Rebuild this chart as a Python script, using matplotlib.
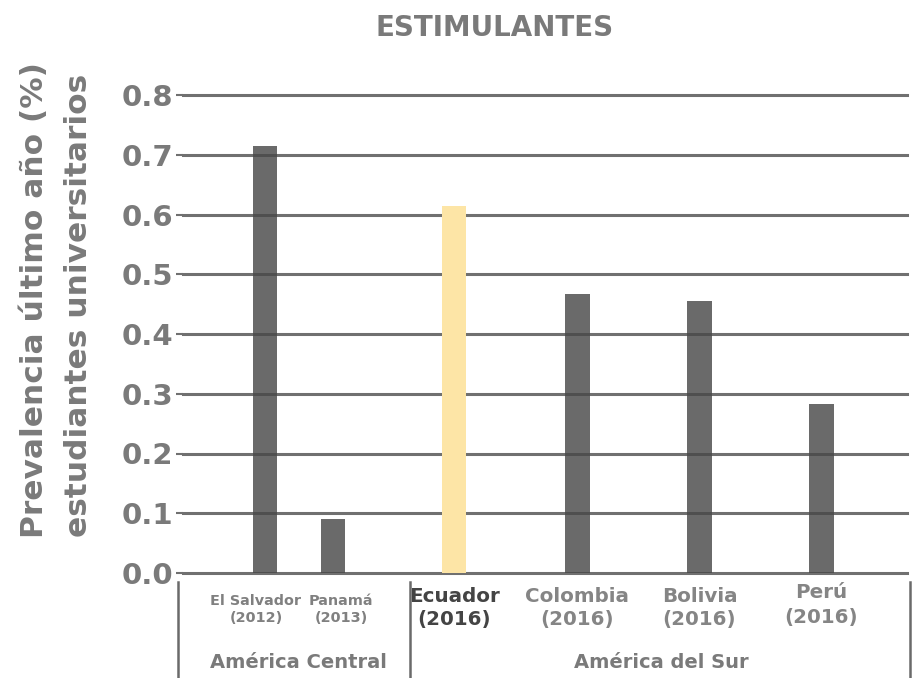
import matplotlib
matplotlib.use("Agg")
import matplotlib.pyplot as plt
from matplotlib.lines import Line2D
import numpy as np

# ---- data ----
countries = ["El Salvador", "Panamá", "Ecuador", "Colombia", "Bolivia", "Perú"]
years = ["(2012)", "(2013)", "(2016)", "(2016)", "(2016)", "(2016)"]
values = [0.715, 0.090, 0.614, 0.467, 0.455, 0.283]
groups = ["América Central", "América del Sur"]
yticks = [0.0, 0.1, 0.2, 0.3, 0.4, 0.5, 0.6, 0.7, 0.8]
title = "ESTIMULANTES"
ylabel_lines = ["Prevalencia último año (%)", "estudiantes universitarios"]
highlight = "Ecuador"

# ---- layout ----
xpos = [0.67, 1.23, 2.22, 3.23, 4.23, 5.23]
bar_w = 0.2
TXT = "#7a7a7a"

fig = plt.figure(figsize=(9.19, 6.78), dpi=100)
ax = fig.add_axes([183/919, 1-573/678, (907-183)/919, (573-95)/678])
ax.set_xlim(0, 5.93)
ax.set_ylim(0, 0.8)

for y in yticks:
    ax.axhline(y, color="#707070", lw=2.2, zorder=1, clip_on=False)

for x, v, c in zip(xpos, values, countries):
    if c == highlight:
        ax.bar(x, v, width=bar_w, color="#fde5a6", zorder=3)
    else:
        ax.bar(x, v, width=bar_w, color="#484848", alpha=0.81, zorder=2, linewidth=0)

for s in ax.spines.values():
    s.set_visible(False)
ax.set_xticks([])
ax.set_yticks(yticks)
ax.set_yticklabels([f"{t:.1f}" for t in yticks], fontsize=21, fontweight="bold",
                   color=TXT, family="DejaVu Sans")
ax.tick_params(axis="y", length=5, width=1.5, color="#707070", pad=2)

fig.text(495/919, 1-28/678, title, ha="center", va="center", fontsize=20,
         fontweight="bold", color=TXT)
fig.text(35/919, 1-300/678, ylabel_lines[0], rotation=90, ha="center", va="center",
         fontsize=22.5, fontweight="bold", color=TXT)
fig.text(79/919, 1-305/678, ylabel_lines[1], rotation=90, ha="center", va="center",
         fontsize=22.5, fontweight="bold", color=TXT)

# category labels
for i, (x, c, yr) in enumerate(zip(xpos, countries, years)):
    if i < 2:
        fs, col = 10.4, "#808080"
        y1, y2 = 601, 618
        xx = [256, 341][i]
        fig.text(xx/919, 1-y1/678, c, ha="center", va="center", fontsize=fs,
                 fontweight="bold", color=col)
        fig.text(xx/919, 1-y2/678, yr, ha="center", va="center", fontsize=fs,
                 fontweight="bold", color=col)
    else:
        fs = 14.3
        col = "#444444" if c == highlight else "#858585"
        y1, y2 = (596, 620) if c != "Perú" else (593, 617)
        ax.text(x, -(y1-573)/597.5, c, ha="center", va="center",
                fontsize=fs, fontweight="bold", color=col, clip_on=False)
        ax.text(x, -(y2-573)/597.5, yr, ha="center", va="center",
                fontsize=fs, fontweight="bold", color=col, clip_on=False)

fig.text(298/919, 1-662/678, groups[0], ha="center", va="center", fontsize=14,
         fontweight="bold", color=TXT)
fig.text(661/919, 1-662/678, groups[1], ha="center", va="center", fontsize=14,
         fontweight="bold", color=TXT)

for xs in [178, 410, 910]:
    fig.add_artist(Line2D([xs/919, xs/919], [0, 1-582/678], color="#6a6a6a", lw=1.8))

fig.savefig("out.png", dpi=100)
